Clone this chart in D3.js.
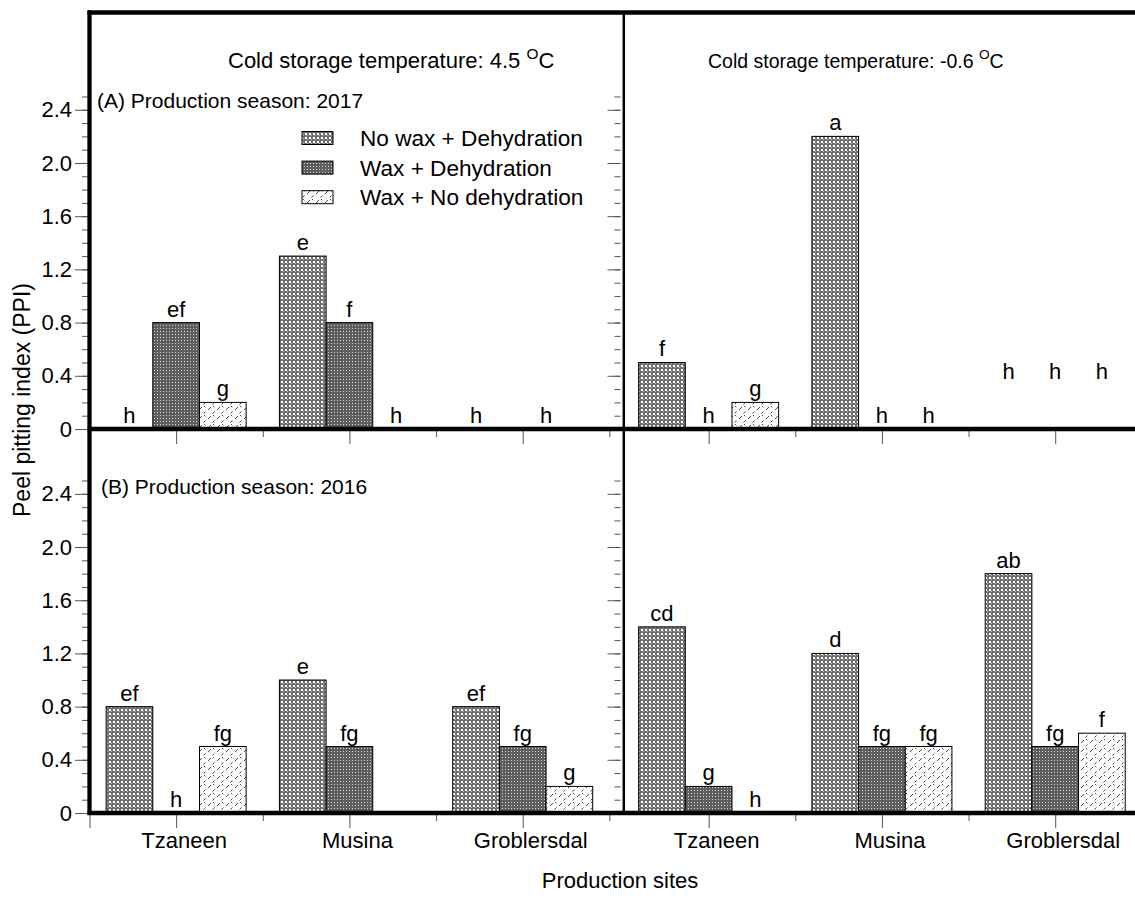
<!DOCTYPE html>
<html><head><meta charset="utf-8">
<script src="https://cdn.jsdelivr.net/npm/d3@7"></script>
<style>
body{margin:0;background:#fff}
svg{display:block}
text{font-family:"Liberation Sans",Arial,Helvetica,sans-serif;fill:#000}
</style>
</head><body>
<svg id="c" width="1135" height="898"></svg>
<script>
// ---------------- data ----------------
const sites = ["Tzaneen", "Musina", "Groblersdal"];
const treatments = ["No wax + Dehydration", "Wax + Dehydration", "Wax + No dehydration"];
// values per site: [No wax + Dehydration, Wax + Dehydration, Wax + No dehydration]
const ppi2017_45 = [[0, 0.8, 0.2], [1.3, 0.8, 0], [0, 0, 0]];
const ppi2017_m06 = [[0.5, 0, 0.2], [2.2, 0, 0], [0, 0, 0]];
const ppi2016_45 = [[0.8, 0, 0.5], [1.0, 0.5, 0], [0.8, 0.5, 0.2]];
const ppi2016_m06 = [[1.4, 0.2, 0], [1.2, 0.5, 0.5], [1.8, 0.5, 0.6]];
// significance letters: [site index, treatment slot, letter, optional level of the letter]
const letters2017_45 = [[0,0,"h"],[0,1,"ef"],[0,2,"g"],[1,0,"e"],[1,1,"f"],[1,2,"h"],[2,0,"h"],[2,1.5,"h"]];
const letters2017_m06 = [[0,0,"f"],[0,1,"h"],[0,2,"g"],[1,0,"a"],[1,1,"h"],[1,2,"h"],[2,0,"h",0.33],[2,1,"h",0.33],[2,2,"h",0.33]];
const letters2016_45 = [[0,0,"ef"],[0,1,"h"],[0,2,"fg"],[1,0,"e"],[1,1,"fg"],[2,0,"ef"],[2,1,"fg"],[2,2,"g"]];
const letters2016_m06 = [[0,0,"cd"],[0,1,"g"],[0,2,"h"],[1,0,"d"],[1,1,"fg"],[1,2,"fg"],[2,0,"ab"],[2,1,"fg"],[2,2,"f"]];
const yTickValues = [0, 0.4, 0.8, 1.2, 1.6, 2.0, 2.4];
const yTickLabels = ["0", "0.4", "0.8", "1.2", "1.6", "2.0", "2.4"];
const yMinorValues = d3.range(0, 26).map(i => i / 10);
const columnTitles = ["4.5", "-0.6"];
const rowTitles = ["(A) Production season: 2017", "(B) Production season: 2016"];

// ---------------- layout ----------------
const svg = d3.select("#c");
const FONT = 22;
const defs = svg.append("defs");

// pattern A : No wax + Dehydration (grey with white dots)
const pA = defs.append("pattern").attr("id","pA").attr("patternUnits","userSpaceOnUse").attr("width",4).attr("height",4);
pA.append("rect").attr("width",4).attr("height",4).attr("fill","#6f6f6f");
pA.append("rect").attr("x",1).attr("y",1).attr("width",2).attr("height",2).attr("fill","#ffffff");
pA.append("rect").attr("x",3).attr("y",3).attr("width",1).attr("height",1).attr("fill","#b8b8b8");
// pattern B : Wax + Dehydration (darker, fine dots)
const pB = defs.append("pattern").attr("id","pB").attr("patternUnits","userSpaceOnUse").attr("width",3).attr("height",3);
pB.append("rect").attr("width",3).attr("height",3).attr("fill","#5e5e5e");
pB.append("rect").attr("x",1).attr("y",1).attr("width",1).attr("height",1).attr("fill","#d6d6d6");
// pattern C : Wax + No dehydration (white with small dashes)
const pC = defs.append("pattern").attr("id","pC").attr("patternUnits","userSpaceOnUse").attr("width",9).attr("height",9);
pC.append("rect").attr("width",9).attr("height",9).attr("fill","#ffffff");
pC.append("path").attr("d","M1,5 l3,-3 M5.5,8.5 l2,-2 M6,1 l1.3,1.3").attr("stroke","#333").attr("stroke-width",0.9).attr("fill","none");
const fills = ["url(#pA)", "url(#pB)", "url(#pC)"];

const panelW = 532.5;
const colX = [89.5, 622];
const rows = [
  {top: 12, zero: 429, ymax: 3.135},
  {top: 430, zero: 813, ymax: 2.88}
];
const panels = [
  {row:0, col:0, values: ppi2017_45, letters: letters2017_45},
  {row:0, col:1, values: ppi2017_m06, letters: letters2017_m06},
  {row:1, col:0, values: ppi2016_45, letters: letters2016_45},
  {row:1, col:1, values: ppi2016_m06, letters: letters2016_m06}
];
const xUnits = 3.073;

panels.forEach(p => {
  const r = rows[p.row];
  const x0 = colX[p.col];
  const xLin = d3.scaleLinear().domain([0, xUnits]).range([x0, x0 + panelW]);
  const y = d3.scaleLinear().domain([0, r.ymax]).range([r.zero, r.top]);
  const xSite = d3.scaleBand().domain(sites).range([xLin(0), xLin(3)]).paddingInner(0.192).paddingOuter(0.096);
  const xTr = d3.scaleBand().domain(d3.range(3)).range([0, xSite.bandwidth()]);
  const g = svg.append("g");

  // bars
  const bars = [];
  p.values.forEach((vals, si) => vals.forEach((v, ti) => bars.push({si, ti, v})));
  g.selectAll("rect.bar").data(bars.filter(d => d.v > 0)).join("rect")
    .attr("class","bar")
    .attr("x", d => xSite(sites[d.si]) + xTr(d.ti))
    .attr("width", xTr.bandwidth())
    .attr("y", d => y(d.v))
    .attr("height", d => y(0) - y(d.v))
    .attr("fill", d => fills[d.ti])
    .attr("stroke", "#000").attr("stroke-width", 1);

  // letters
  g.selectAll("text.let").data(p.letters).join("text")
    .attr("class","let")
    .attr("x", d => xSite(sites[d[0]]) + xTr.step() * d[1] + xTr.bandwidth() / 2)
    .attr("y", d => {
      const lvl = d.length > 3 ? d[3] : p.values[d[0]][Math.round(d[1])];
      return y(lvl) - 6;
    })
    .attr("text-anchor","middle").attr("font-size", FONT).text(d => d[2]);

  // y axis ticks (minor + major)
  const yMinor = d3.axisLeft(y).tickValues(yMinorValues).tickSize(6).tickFormat("");
  const yMajor = d3.axisLeft(y).tickValues(yTickValues).tickSize(13).tickPadding(3)
    .tickFormat((d, i) => p.col === 0 ? yTickLabels[i] : "");
  [yMinor, yMajor].forEach(ax => {
    const a = g.append("g").attr("transform", `translate(${x0 - 1.5},0)`).call(ax);
    a.select(".domain").remove();
    a.selectAll("line").attr("stroke", "#555");
    a.selectAll("text").attr("font-size", FONT).attr("font-family", "Liberation Sans, Arial, sans-serif").attr("fill","#000");
  });

  // x axis ticks
  const xMajor = d3.axisBottom(xLin).tickValues(p.col === 0 ? [0, 0.5, 1.5, 2.5] : [0.5, 1.5, 2.5]).tickSize(14).tickFormat("");
  const xMinor = d3.axisBottom(xLin).tickValues([1, 2, 3]).tickSize(7).tickFormat("");
  [xMajor, xMinor].forEach(ax => {
    const a = g.append("g").attr("transform", `translate(0,${r.zero + 1})`).call(ax);
    a.select(".domain").remove();
    a.selectAll("line").attr("stroke", "#555");
  });

  // site labels under bottom row
  if (p.row === 1) {
    g.selectAll("text.site").data(sites).join("text")
      .attr("class","site")
      .attr("x", d => xSite(d) + xSite.bandwidth() / 2 + 8)
      .attr("y", 848)
      .attr("text-anchor","middle").attr("font-size", FONT).text(d => d);
  }
});

// frame lines
const frame = svg.append("g").attr("stroke","#000");
frame.append("line").attr("x1",89.5).attr("x2",89.5).attr("y1",10.5).attr("y2",815).attr("stroke-width",4.3);
frame.append("line").attr("x1",87.5).attr("x2",1135).attr("y1",12.5).attr("y2",12.5).attr("stroke-width",4.3);
frame.append("line").attr("x1",87.5).attr("x2",1135).attr("y1",429).attr("y2",429).attr("stroke-width",4.6);
frame.append("line").attr("x1",87.5).attr("x2",1135).attr("y1",813).attr("y2",813).attr("stroke-width",4.3);
frame.append("line").attr("x1",623.8).attr("x2",623.8).attr("y1",12).attr("y2",813).attr("stroke-width",2.5);

// column titles
const titleX = [228, 708];
const titleSize = [22, 19.5];
columnTitles.forEach((t, i) => {
  const tx = svg.append("text").attr("x", titleX[i]).attr("y", 68).attr("font-size", titleSize[i]);
  tx.append("tspan").text(`Cold storage temperature: ${t} `);
  tx.append("tspan").attr("dy", -9).attr("font-size", titleSize[i] * 0.7).text("O");
  tx.append("tspan").attr("dy", 9).text("C");
});

// row titles
svg.append("text").attr("x", 97).attr("y", 108).attr("font-size", 21).text(rowTitles[0]);
svg.append("text").attr("x", 101).attr("y", 494).attr("font-size", 21).text(rowTitles[1]);

// legend
const leg = svg.append("g");
treatments.forEach((t, i) => {
  const cy = 138 + i * 29.6;
  leg.append("rect").attr("x", 302).attr("y", cy - 6.5).attr("width", 31).attr("height", 13)
    .attr("fill", fills[i]).attr("stroke", "#000").attr("stroke-width", 1);
  leg.append("text").attr("x", 360).attr("y", cy + 8).attr("font-size", 22.6).text(t);
});

// axis titles
svg.append("text").attr("transform", "translate(30,400) rotate(-90)").attr("text-anchor","middle")
  .attr("font-size", 23).text("Peel pitting index (PPI)");
svg.append("text").attr("x", 620).attr("y", 888).attr("text-anchor","middle")
  .attr("font-size", FONT).text("Production sites");
</script>
</body></html>
